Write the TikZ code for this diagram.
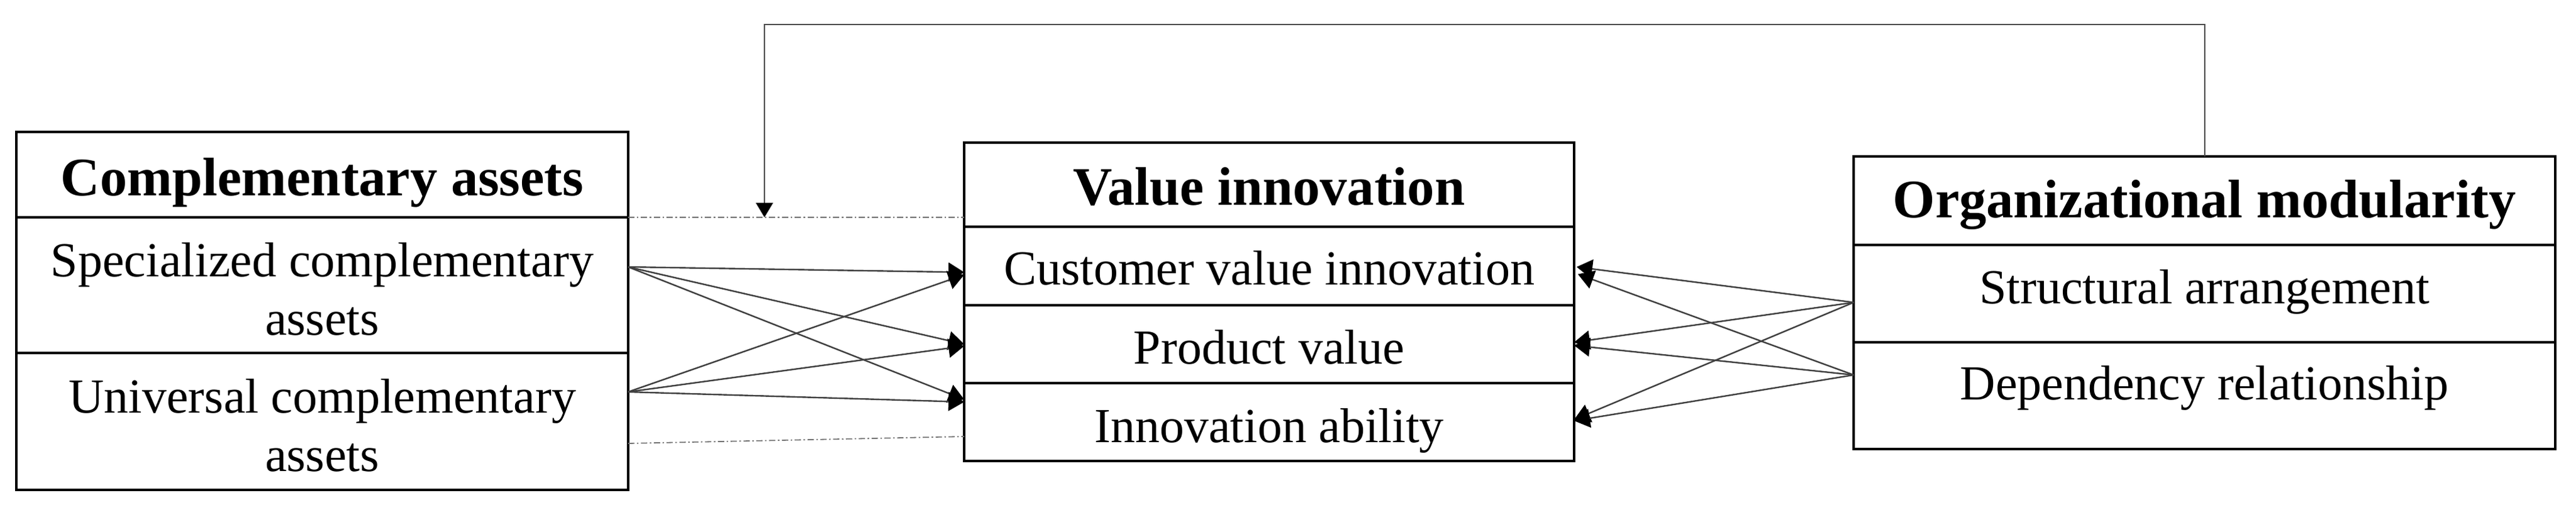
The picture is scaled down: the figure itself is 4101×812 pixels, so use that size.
\documentclass[tikz,border=0pt]{standalone}
\usepackage{fontspec}
\setmainfont{Liberation Serif}
\usetikzlibrary{arrows.meta,calc}
\begin{document}
\begin{tikzpicture}[x=0.25pt,y=-0.25pt,
  cell/.style={draw=black, line width=1pt, inner sep=0pt, outer sep=0pt, align=center,
    font=\fontsize{19.5}{23.25}\selectfont},
  head/.style={cell, font=\fontsize{21.6}{26}\selectfont\bfseries},
  conn/.style={draw=black!75, line width=0.6pt, -{Triangle[length=6.25pt,width=7.5pt,color=black]}},
  fb/.style={draw=black!70, line width=0.5pt, -{Triangle[length=5.75pt,width=6.75pt,color=black]}},
  dotline/.style={draw=black!55, line width=0.45pt, dash pattern=on 2.5pt off 1pt on 0.6pt off 1pt}]
\useasboundingbox (0,0) rectangle (4101,812);

% Complementary assets
\node[head, minimum width=243.5pt, minimum height=34pt, text height=16.65pt, text depth=0pt] (cat) at (513,278) {Complementary assets};
\node[cell, minimum width=243.5pt, minimum height=54pt] (cas) at (513,454) {\rule{0pt}{16.6pt}Specialized complementary\\assets};
\node[cell, minimum width=243.5pt, minimum height=54.5pt] (cau) at (513,671) {\rule{0pt}{16.8pt}Universal complementary\\assets};

% Value innovation
\node[head, minimum width=242.75pt, minimum height=33.5pt, text height=16.45pt, text depth=0pt] (vit) at (2020.5,294) {Value innovation};
\node[cell, minimum width=242.75pt, minimum height=31.25pt, text height=14.77pt, text depth=0pt] (vic) at (2020.5,423.5) {Customer value innovation};
\node[cell, minimum width=242.75pt, minimum height=31pt, text height=15.77pt, text depth=0pt] (vip) at (2020.5,548) {Product value};
\node[cell, minimum width=242.75pt, minimum height=31pt, text height=16.27pt, text depth=0pt] (vii) at (2020.5,672) {Innovation ability};

% Organizational modularity
\node[head, minimum width=279.25pt, minimum height=35.25pt, text height=13.65pt, text depth=0pt] (omt) at (3509.5,319.5) {Organizational modularity};
\node[cell, minimum width=279.25pt, minimum height=38.75pt, text height=12.77pt, text depth=5pt] (oms) at (3509.5,467.5) {Structural arrangement};
\node[cell, minimum width=279.25pt, minimum height=42.5pt, text height=12.77pt, text depth=9.5pt] (omd) at (3509.5,630) {Dependency relationship};

% dotted guide lines
\draw[dotline] (cat.south east) -- (cat.south east -| vit.west);
\draw[dotline] ($(cau.east)+(0,35)$) -- ($(vii.west)+(0,23)$);

% feedback
\coordinate (fbtop) at (1217,39);
\coordinate (fbend) at (1217,346);
\draw[fb] (omt.north) |- (fbtop) -- (fbend);

% left connectors
\coordinate (s1) at ($(cas.east)+(0,-29)$);
\coordinate (s2) at ($(cau.east)+(0,-47)$);
\draw[conn] (s1) -- ($(vic.west)+(0,10)$);
\draw[conn] (s1) -- ($(vip.west)+(0,0)$);
\draw[conn] (s1) -- ($(vii.west)+(0,-36)$);
\draw[conn] (s2) -- ($(vic.west)+(0,14)$);
\draw[conn] (s2) -- ($(vip.west)+(0,3)$);
\draw[conn] (s2) -- ($(vii.west)+(0,-32)$);

% right connectors
\coordinate (r1) at ($(oms.west)+(0,14)$);
\coordinate (r2) at ($(omd.west)+(0,-33)$);
\draw[conn] (r1) -- ($(vic.east)+(4,1.5)$);
\draw[conn] (r1) -- ($(vip.east)+(0,-3)$);
\draw[conn] (r1) -- ($(vii.east)+(0,-4)$);
\draw[conn] (r2) -- ($(vic.east)+(6,13)$);
\draw[conn] (r2) -- ($(vip.east)+(0,2)$);
\draw[conn] (r2) -- ($(vii.east)+(0,-2)$);
\end{tikzpicture}
\end{document}
